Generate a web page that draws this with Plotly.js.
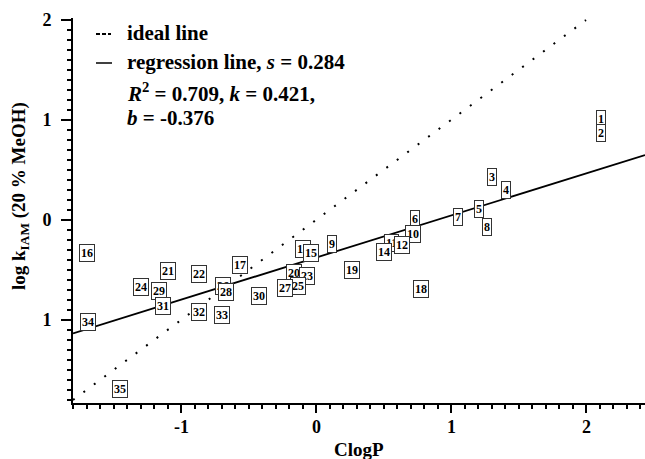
<!DOCTYPE html>
<html>
<head>
<meta charset="utf-8">
<script src="https://cdn.plot.ly/plotly-3.0.1.min.js"></script>
<style>html,body{margin:0;padding:0;background:#fff;}#chart{width:645px;height:459px;}</style>
</head>
<body>
<div id="chart"></div>
<script>
// Compound numbers, ClogP (x) and log kIAM (y)
const ids   = [1,2,3,4,5,6,7,8,9,10,11,12,13,14,15,16,17,18,19,20,21,22,23,24,25,26,27,28,29,30,31,32,33,34,35];
const clogp = [2.11,2.11,1.30,1.41,1.21,0.73,1.05,1.27,0.12,0.72,0.56,0.64,-0.10,0.50,-0.04,-1.70,-0.56,0.78,0.27,-0.16,-1.10,-0.87,-0.07,-1.30,-0.13,-0.69,-0.23,-0.67,-1.16,-0.42,-1.13,-0.87,-0.70,-1.69,-1.45];
const logk  = [1.01,0.87,0.43,0.30,0.11,0.01,0.03,-0.07,-0.24,-0.14,-0.23,-0.25,-0.29,-0.32,-0.33,-0.33,-0.45,-0.69,-0.50,-0.53,-0.51,-0.54,-0.56,-0.67,-0.66,-0.66,-0.68,-0.72,-0.71,-0.76,-0.86,-0.92,-0.95,-1.02,-1.69];

// Regression parameters
const k = 0.421, b = -0.376;
const xRange = [-1.80, 2.437];
const yRange = [-1.83, 2.02];

// Tick labels as printed in the figure
const yTickVals = [-1, 0, 1, 2];
const yTickText = ['1', '0', '1', '2'];
const xTickVals = [-1, 0, 1, 2];
const xTickText = ['-1', '0', '1', '2'];

const FONT = 'Liberation Serif, Times New Roman, serif';
const L = 73, T = 18, W = 572, H = 385;
const px = v => (v - L) / W;          // pixel x -> paper
const py = v => 1 - (v - T) / H;      // pixel y -> paper

const traces = [
  { x: [xRange[0], 2.0], y: [xRange[0], 2.0], mode: 'lines', type: 'scatter',
    line: { color: '#000', width: 2, dash: '2px,11px' }, hoverinfo: 'skip' },
  { x: xRange, y: xRange.map(v => k * v + b), mode: 'lines', type: 'scatter',
    line: { color: '#000', width: 1.8 }, hoverinfo: 'skip' },
  { x: clogp, y: logk, mode: 'markers', type: 'scatter',
    marker: { size: 1, color: 'rgba(0,0,0,0)' }, hoverinfo: 'skip' }
];

const annotations = ids.map((id, i) => ({
  x: clogp[i], y: logk[i], xref: 'x', yref: 'y', showarrow: false,
  text: '<b>' + id + '</b>',
  font: { family: FONT, size: 12, color: '#000' },
  bgcolor: '#fff', bordercolor: '#333', borderwidth: 1, borderpad: 1
}));

const legendLines = [
  { t: '<b>ideal line</b>', y: 33 },
  { t: '<b>regression line, <i>s</i> = 0.284</b>', y: 62 },
  { t: '<b><i>R</i><sup>2</sup> = 0.709, <i>k</i> = 0.421,</b>', y: 92 },
  { t: '<b><i>b</i> = -0.376</b>', y: 118 }
];
legendLines.forEach(o => annotations.push({
  xref: 'paper', yref: 'paper', x: px(125), y: py(o.y),
  xanchor: 'left', yanchor: 'middle', showarrow: false, text: o.t,
  font: { family: FONT, size: 21, color: '#000' }
}));

// X tick labels placed on the x axis scale
xTickVals.forEach((v, i) => annotations.push({
  xref: 'x', yref: 'paper', x: v, y: py(427), xanchor: 'center', yanchor: 'middle',
  showarrow: false, text: '<b>' + xTickText[i] + '</b>',
  font: { family: FONT, size: 18, color: '#000' }
}));

// Axis titles
annotations.push({
  xref: 'paper', yref: 'paper', x: 0.5, y: py(449), xanchor: 'center', yanchor: 'middle',
  showarrow: false, text: '<b>ClogP</b>',
  font: { family: FONT, size: 19, color: '#000' }
});
annotations.push({
  xref: 'paper', yref: 'paper', x: px(20), y: py(196), xanchor: 'center', yanchor: 'middle',
  showarrow: false, textangle: -90,
  text: '<b>log k<sub>IAM</sub> (20 % MeOH)</b>',
  font: { family: FONT, size: 19, color: '#000' }
});

const shapes = [
  { type: 'line', xref: 'paper', yref: 'paper', x0: px(96), x1: px(111), y0: py(34), y1: py(34),
    line: { color: '#000', width: 2, dash: '4px,2px' } },
  { type: 'line', xref: 'paper', yref: 'paper', x0: px(96), x1: px(112), y0: py(63), y1: py(63),
    line: { color: '#000', width: 1.5 } }
];

const axisCommon = {
  showgrid: false, zeroline: false, showline: true, linecolor: '#000', linewidth: 2,
  ticks: 'outside', tickwidth: 2, tickcolor: '#000',
  tickfont: { family: FONT, size: 18, color: '#000' },
  minor: { dtick: 0.1, ticks: 'outside', ticklen: 4, tickwidth: 2, tickcolor: '#000' }
};

const layout = {
  width: 645, height: 459,
  margin: { l: L, r: 0, t: T, b: 56 },
  paper_bgcolor: '#fff', plot_bgcolor: '#fff',
  showlegend: false,
  xaxis: Object.assign({}, axisCommon, {
    range: xRange, tickvals: xTickVals, showticklabels: false, ticklen: 8
  }),
  yaxis: Object.assign({}, axisCommon, {
    range: yRange, tickvals: yTickVals, ticktext: yTickText.map(s => '<b>' + s + '</b>'),
    ticklen: 10, ticklabelstandoff: 6
  }),
  annotations: annotations,
  shapes: shapes
};

Plotly.newPlot('chart', traces, layout, { staticPlot: true, displayModeBar: false });
</script>
</body>
</html>
